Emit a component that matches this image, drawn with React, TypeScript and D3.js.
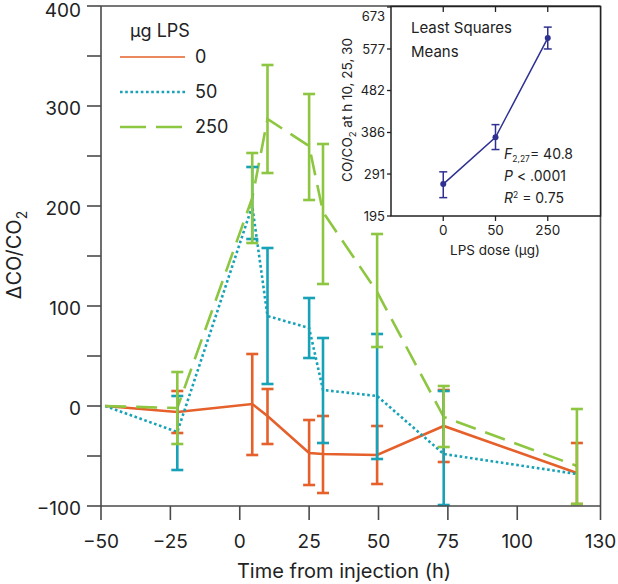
import React from 'react';
import * as d3 from 'd3';

// ---- main chart data ----
const times = [-48.5, -22.5, 4.5, 10, 25, 30, 49.5, 73.5, 121.5];
const seriesNames = ['0', '50', '250'];
const orangeMean = [0, -6, 2, -10, -47, -48, -49, -20, -67];
const orangeLow = [null, -27, -49, -38, -79, -87, -78, -56, -98];
const orangeHigh = [null, 15, 52, 17, -14, -10, -20, 16, -37];
const tealMean = [0, -26, 200, 90, 78, 16, 10, -48, -68];
const tealLow = [null, -64, 167, 22, 48, -37, -53, -99, null];
const tealHigh = [null, 10, 239, 158, 108, 68, 72, 15, null];
const greenMean = [0, -2, 208, 287, 260, 194, 114, -11, -60];
const greenLow = [null, -38, 163, 233, 206, 122, 59, -41, -98];
const greenHigh = [null, 34, 253, 341, 312, 262, 172, 20, -3];
const xTicks = [-50, -25, 0, 25, 50, 75, 100, 130];
const yMajorTicks = [-100, 0, 100, 200, 300, 400];
const yMinorTicks = [-50, 50, 150, 250, 350];

// ---- inset data ----
const doses = ['0', '50', '250'];
const lsMean = [268, 375, 602];
const lsLow = [237, 347, 577];
const lsHigh = [296, 404, 627];
const insetYTicks = [195, 291, 386, 482, 577, 673];

const FONT = 'Inter, "Liberation Sans", Arial, sans-serif';
const AX = '#4a4a4a';

const fmt = (v: number) => (v < 0 ? '\u2212' + Math.abs(v) : String(v));

export default function App() {
  const x = d3.scaleLinear().domain([-50, 130]).range([101, 600.5]);
  const y = d3.scaleLinear().domain([-100, 400]).range([506, 6]);

  const series = [
    { name: seriesNames[0], mean: orangeMean, low: orangeLow, high: orangeHigh, color: '#e5602b', dash: undefined as string | undefined, width: 2.6 },
    { name: seriesNames[1], mean: tealMean, low: tealLow, high: tealHigh, color: '#17a2b7', dash: '2.6,2.6', width: 2.6 },
    { name: seriesNames[2], mean: greenMean, low: greenLow, high: greenHigh, color: '#8dc640', dash: '21,10', width: 2.6 },
  ];

  const line = d3
    .line<number>()
    .x((_, i) => x(times[i]))
    .y((d) => y(d));

  const xi = d3.scalePoint<string>().domain(doses).range([391, 600]).padding(1);
  const yi = d3.scaleLinear().domain([195, 673]).range([216, 7]);
  const insetLine = d3
    .line<number>()
    .x((_, i) => xi(doses[i]) as number)
    .y((d) => yi(d));
  const NAVY = '#2e3191';

  return (
    <svg
      width={618}
      height={584}
      style={{ position: 'absolute', left: 0, top: 0, background: '#fff' }}
      fontFamily={FONT}
    >
      <rect x={0} y={0} width={618} height={584} fill="#fff" />
      {/* series lines */}
      {series.map((s) => (
        <path
          key={'l' + s.name}
          d={line(s.mean) as string}
          fill="none"
          stroke={s.color}
          strokeWidth={s.width}
          strokeDasharray={s.dash}
        />
      ))}
      {/* error bars */}
      {series.map((s) =>
        s.mean.map((m, i) => {
          const lo = s.low[i];
          const hi = s.high[i];
          if (lo == null || hi == null) return null;
          const cx = x(times[i]);
          return (
            <g key={'e' + s.name + i} stroke={s.color} strokeWidth={2.6}>
              <line x1={cx} x2={cx} y1={y(lo)} y2={y(hi)} />
              <line x1={cx - 6} x2={cx + 6} y1={y(lo)} y2={y(lo)} />
              <line x1={cx - 6} x2={cx + 6} y1={y(hi)} y2={y(hi)} />
            </g>
          );
        })
      )}
      {/* frame */}
      <g stroke={AX} strokeWidth={1.6} fill="none">
        <line x1={101} x2={101} y1={6} y2={506} />
        <line x1={101} x2={600.5} y1={506} y2={506} />
        <line x1={101} x2={600.5} y1={6} y2={6} />
        <line x1={600.5} x2={600.5} y1={6} y2={506} />
        {yMajorTicks.concat(yMinorTicks).map((t) => (
          <line key={'yt' + t} x1={87} x2={101} y1={y(t)} y2={y(t)} />
        ))}
        {xTicks.map((t) => (
          <line key={'xt' + t} x1={x(t)} x2={x(t)} y1={506} y2={520} />
        ))}
      </g>
      {yMajorTicks.map((t) => (
        <text
          key={'yl' + t}
          x={81}
          y={y(t) + (t === 400 ? 4 : 2.5)}
          dy="0.36em"
          textAnchor="end"
          fontSize={19}
          fill="#222"
        >
          {fmt(t)}
        </text>
      ))}
      {xTicks.map((t) => (
        <text key={'xl' + t} x={x(t)} y={548} textAnchor="middle" fontSize={19} fill="#222">
          {fmt(t)}
        </text>
      ))}
      <text x={344} y={578} textAnchor="middle" fontSize={20} fill="#222">
        Time from injection (h)
      </text>
      <text transform="translate(21,255) rotate(-90)" textAnchor="middle" fontSize={20} fill="#222">
        ΔCO/CO<tspan fontSize={14} dy={6}>2</tspan>
      </text>

      {/* legend */}
      <text x={130} y={37} fontSize={18} fill="#222">µg LPS</text>
      {series.map((s, i) => {
        const ly = 57 + i * 35;
        return (
          <g key={'lg' + s.name}>
            <line
              x1={120}
              x2={185}
              y1={ly}
              y2={ly}
              stroke={s.color}
              strokeWidth={i === 0 ? 1.6 : 2.4}
              strokeDasharray={i === 2 ? '26,10' : s.dash}
            />
            <text x={195} y={ly} dy="0.36em" fontSize={18} fill="#222">
              {s.name}
            </text>
          </g>
        );
      })}

      {/* inset */}
      <rect x={391} y={6.5} width={209.5} height={209.5} fill="#fff" stroke="#222" strokeWidth={1.5} />
      <g stroke="#222" strokeWidth={1.3}>
        {insetYTicks.map((t) => (
          <line key={'iyt' + t} x1={387} x2={391} y1={yi(t)} y2={yi(t)} />
        ))}
        {doses.map((d) => (
          <g key={'ixt' + d}>
            <line x1={xi(d)} x2={xi(d)} y1={216} y2={221} />
            <line x1={xi(d)} x2={xi(d)} y1={7} y2={12} />
          </g>
        ))}
      </g>
      {insetYTicks.map((t, i) => (
        <text
          key={'iyl' + t}
          x={385}
          y={i === insetYTicks.length - 1 ? 16 : yi(t)}
          dy="0.36em"
          textAnchor="end"
          fontSize={13}
          fill="#222"
        >
          {t}
        </text>
      ))}
      {doses.map((d) => (
        <text key={'ixl' + d} x={xi(d)} y={235} textAnchor="middle" fontSize={13.5} fill="#222">
          {d}
        </text>
      ))}
      <text x={495} y={255} textAnchor="middle" fontSize={13.5} fill="#222">
        LPS dose (µg)
      </text>
      <text transform="translate(352,110) rotate(-90)" textAnchor="middle" fontSize={13.5} fill="#222">
        CO/CO<tspan fontSize={9.5} dy={4}>2</tspan>
        <tspan dy={-4}> at h 10, 25, 30</tspan>
      </text>
      <path d={insetLine(lsMean) as string} fill="none" stroke={NAVY} strokeWidth={1.5} />
      {lsMean.map((m, i) => {
        const cx = xi(doses[i]) as number;
        return (
          <g key={'ie' + i} stroke={NAVY} strokeWidth={1.5}>
            <line x1={cx} x2={cx} y1={yi(lsLow[i])} y2={yi(lsHigh[i])} />
            <line x1={cx - 4} x2={cx + 4} y1={yi(lsLow[i])} y2={yi(lsLow[i])} />
            <line x1={cx - 4} x2={cx + 4} y1={yi(lsHigh[i])} y2={yi(lsHigh[i])} />
            <circle cx={cx} cy={yi(m)} r={3} fill={NAVY} stroke="none" />
          </g>
        );
      })}
      <text x={411} y={33} fontSize={15} fill="#222">Least Squares</text>
      <text x={411} y={57} fontSize={15} fill="#222">Means</text>
      <text x={504} y={159} fontSize={14} fill="#222">
        <tspan fontStyle="italic">F</tspan>
        <tspan fontSize={8.5} dy={3}>2,27</tspan>
        <tspan dy={-3}>= 40.8</tspan>
      </text>
      <text x={504} y={181} fontSize={14} fill="#222">
        <tspan fontStyle="italic">P</tspan> &lt; .0001
      </text>
      <text x={504} y={203} fontSize={14} fill="#222">
        <tspan fontStyle="italic">R</tspan>
        <tspan fontSize={8.5} dy={-5}>2</tspan>
        <tspan dy={5}> = 0.75</tspan>
      </text>
    </svg>
  );
}
